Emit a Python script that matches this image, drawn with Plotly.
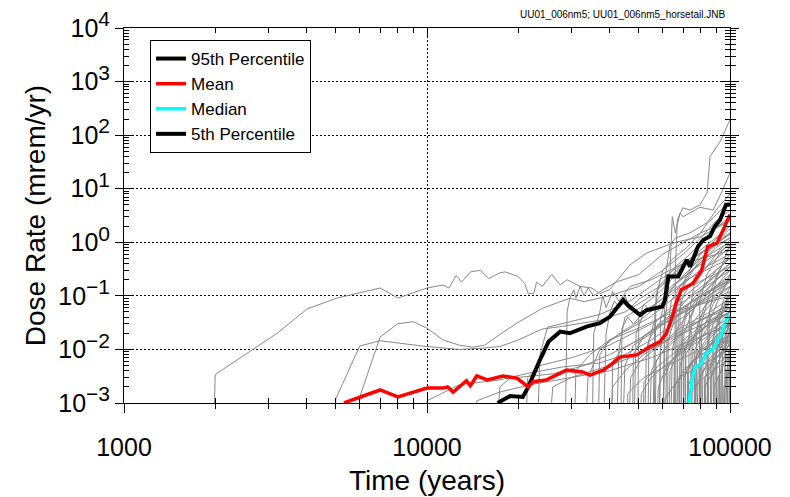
import plotly.graph_objects as go

# ---------------- data ----------------
p95_time = [17100, 18800, 20700, 21600, 23600, 25200, 27500, 29600, 33800, 37200, 40200, 44400, 46000,
            50500, 53000, 59800, 61000, 62600, 67500, 72000, 73800, 78400, 81600, 86000, 89000, 92700,
            97000, 100000]
p95_dose = [1.0e-3, 1.35e-3, 1.3e-3, 2.0e-3, 6.4e-3, 1.4e-2, 2.15e-2, 2.0e-2, 2.7e-2, 3.1e-2, 4.1e-2,
            8.4e-2, 6.7e-2, 4.4e-2, 5.4e-2, 6.3e-2, 8.4e-2, 0.23, 0.23, 0.47, 0.35, 0.83, 1.1, 1.3, 1.97,
            2.6, 5.0, 5.0]

mean_time = [5320, 7000, 8020, 10000, 11300, 11700, 12200, 13500, 13900, 14600, 15800, 17800, 19800,
             21600, 22400, 24800, 28900, 32600, 34500, 37200, 38200, 41200, 43300, 49300, 54500, 58800,
             61700, 64000, 66500, 69000, 75400, 80600, 84400, 88000, 90600, 94900, 100000]
mean_dose = [1.0e-3, 1.75e-3, 1.3e-3, 1.9e-3, 1.9e-3, 2.0e-3, 1.6e-3, 2.6e-3, 2.1e-3, 3.2e-3, 2.7e-3,
             3.2e-3, 2.9e-3, 2.0e-3, 2.5e-3, 2.7e-3, 4.1e-3, 3.8e-3, 3.3e-3, 3.8e-3, 4.1e-3, 5.6e-3,
             7.2e-3, 7.9e-3, 1.13e-2, 1.4e-2, 2.0e-2, 3.5e-2, 7.4e-2, 0.13, 0.17, 0.30, 0.83, 0.9,
             0.97, 1.7, 3.3]

median_time = [73300, 75000, 76700, 80600, 83700, 86900, 88900, 91000, 93600, 97000, 100000]
median_dose = [1.0e-3, 2.7e-3, 4.5e-3, 5.6e-3, 8.6e-3, 1.0e-2, 1.07e-2, 1.5e-2, 1.9e-2, 3.5e-2, 4.4e-2]

# 5th percentile stays below the plotted range (< 1e-3) for the whole period
p5_time = [73300, 100000]
p5_dose = [1e-4, 5e-4]

# individual realizations (horsetail): times and doses
real_times = [
    [1970, 2000, 3200, 4020, 5050, 7000, 8030, 10000, 11300, 11800, 12500, 13000, 13900, 15000, 16000,
     17400, 18100, 20000, 21000, 21600, 22500, 23000, 24000, 25800, 27500, 29000, 32000, 35000, 37200,
     40000, 46800, 53000, 66000, 79600, 97000, 100000],
    [4970, 5000, 6000, 7000, 10000, 12800, 15000, 17400, 20000, 24000, 28000, 33800, 37200, 45000, 55000,
     65000, 75000, 90000, 100000],
    [5900, 6000, 7000, 8000, 9000, 10000, 11300, 12800, 14200, 15500, 17400, 19800, 24100, 29600, 33000,
     40000, 50000, 60000, 70000, 80000, 90000, 100000],
    [9800, 10000, 12800, 17400, 21600, 28000, 37200, 45000, 55000, 70000, 85000, 100000],
    [16800, 17400, 18800, 21400, 26000, 33000, 40000, 50000, 60000, 75000, 100000],
    [21000, 21500, 23600, 30000, 40000, 55000, 75000, 100000],
    [23000, 23600, 25000, 30000, 37200, 46800, 58800, 73800, 100000],
    [28500, 29000, 29600, 30500, 31000, 32000, 33000, 34000, 35500, 37200, 42000, 50000, 60000, 70000,
     80000, 100000],
    [33000, 34000, 37200, 43300, 50500, 58800, 68400, 79600, 100000],
    [36500, 37200, 40000, 46800, 54500, 63400, 73800, 100000],
    [38000, 39000, 40200, 41500, 43300, 45000, 46800, 50500, 58800, 68400, 85900, 100000],
    [40000, 41000, 45000, 52000, 62000, 75000, 100000],
    [42000, 43000, 45000, 50500, 58800, 68400, 79600, 100000],
    [44000, 45000, 48000, 55000, 65000, 80000, 100000],
    [46000, 47000, 50500, 58800, 68400, 85900, 100000],
    [48000, 49000, 52000, 58800, 65000, 75000, 90000, 100000],
    [50000, 51000, 55000, 63400, 75000, 100000],
    [52000, 53000, 56000, 63400, 73800, 85900, 100000],
    [54000, 55000, 58800, 68400, 79600, 100000],
    [55500, 56500, 58000, 61000, 66000, 73800, 85900, 100000],
    [57000, 58000, 62000, 70000, 85000, 100000],
    [58000, 59000, 61000, 66000, 73800, 85900, 100000],
    [59500, 60500, 64000, 72000, 85000, 100000],
    [61000, 62000, 64000, 68400, 75000, 85900, 100000],
    [60000, 61000, 63400, 64500, 66000, 68400, 70000, 79600, 88000, 95000, 100000],
    [65500, 66000, 67000, 69800, 73800, 79600, 84000, 85900, 92700, 100000],
    [62500, 63400, 67000, 73800, 85900, 100000],
    [63500, 64500, 67000, 73800, 85900, 100000],
    [64500, 65500, 70000, 80000, 100000],
    [66500, 67500, 70000, 75000, 85900, 100000],
    [67500, 68400, 72000, 79600, 90000, 100000],
    [68500, 69500, 72000, 79600, 90000, 100000],
    [69500, 70500, 75000, 85000, 100000],
    [70500, 71500, 75000, 82000, 92000, 100000],
    [71500, 72500, 78000, 88000, 100000],
    [72500, 73500, 76000, 82000, 92000, 100000],
    [73500, 74500, 80000, 90000, 100000],
    [74500, 75500, 79600, 88000, 100000],
    [75500, 76500, 82000, 92000, 100000],
    [76500, 77500, 82000, 90000, 100000],
    [77500, 78500, 84000, 94000, 100000],
    [78500, 79500, 86000, 100000],
    [79500, 80500, 85000, 92000, 100000],
    [80500, 81500, 88000, 100000],
    [81500, 82500, 90000, 100000],
    [82500, 83500, 88000, 95000, 100000],
    [83500, 84500, 92000, 100000],
    [84500, 85500, 90000, 96000, 100000],
    [85500, 86500, 94000, 100000],
    [86500, 87500, 93000, 100000],
    [87500, 88500, 95000, 100000],
    [88500, 89500, 95000, 100000],
    [89500, 90500, 95000, 100000],
    [90500, 91500, 100000],
    [91500, 92500, 100000],
    [92500, 93500, 100000],
    [93500, 94500, 100000],
    [94500, 95500, 100000],
    [95500, 96500, 100000],
    [96500, 97500, 100000],
    [97500, 98500, 100000],
    [98500, 99500, 100000],
    [56000, 57000, 60000, 65000, 72000, 80000, 90000, 100000],
    [60000, 61000, 63400, 66000, 73800, 85900, 100000],
    [14300, 14600, 17400, 22000, 30000, 40000, 55000, 75000, 100000],
    [25000, 26000, 30000, 40000, 50000, 70000, 100000],
    [40500, 41000, 44000, 50500, 60000, 75000, 100000],
    [43500, 44000, 46000, 48000, 52000, 60000, 72000, 100000],
    [45500, 46000, 52000, 62000, 80000, 100000],
    [47500, 48000, 52000, 58800, 70000, 90000, 100000],
    [49500, 50000, 52000, 55000, 58000, 64000, 75000, 100000],
    [51500, 52000, 58000, 68000, 85000, 100000],
    [53500, 54000, 58000, 66000, 80000, 100000],
    [56500, 57000, 62000, 72000, 90000, 100000],
    [58500, 59000, 62000, 68000, 80000, 100000],
    [60500, 61000, 68000, 85000, 100000],
    [62000, 62500, 66000, 75000, 90000, 100000],
    [65000, 65500, 70000, 82000, 100000],
    [67000, 67500, 75000, 90000, 100000],
    [69000, 69500, 73000, 82000, 100000],
    [71000, 71500, 78000, 90000, 100000],
    [73000, 73500, 82000, 100000],
    [76000, 76500, 84000, 100000],
    [79000, 79500, 84000, 92000, 100000],
    [35000, 35500, 37200, 38000, 39000, 41000, 43000, 46800, 55000, 70000, 100000],
    [30500, 31000, 34500, 40000, 50000, 65000, 100000],
    [70000, 70500, 76000, 86000, 100000],
    [72000, 72500, 80000, 92000, 100000],
    [74000, 74500, 80000, 90000, 100000],
    [77000, 77500, 86000, 100000],
    [80000, 80500, 88000, 100000],
    [82000, 82500, 92000, 100000],
    [84000, 84500, 92000, 100000],
    [86000, 86500, 95000, 100000],
    [88000, 88500, 96000, 100000],
    [90000, 90500, 100000],
    [92000, 92500, 100000],
    [94000, 94500, 100000],
    [96000, 96500, 100000],
    [98000, 98500, 100000],
    [99000, 99500, 100000],
    [66000, 66500, 70000, 78000, 90000, 100000],
    [68000, 68500, 72000, 80000, 92000, 100000],
]
real_doses = [
    [1e-4, 3.4e-3, 2.0e-2, 5.7e-2, 9.1e-2, 0.14, 0.091, 0.14, 0.16, 0.14, 0.24, 0.18, 0.28, 0.30, 0.21,
     0.27, 0.28, 0.23, 0.17, 0.11, 0.11, 0.18, 0.15, 0.25, 0.16, 0.20, 0.15, 0.14, 0.11,
     0.13, 0.38, 0.63, 1.0, 1.26, 2.3, 2.6],
    [1e-4, 1.2e-3, 1.16e-2, 1.45e-2, 1.13e-2, 1.0e-2, 1.05e-2, 1.13e-2, 1.5e-2, 2.4e-2, 2.7e-2, 3.2e-2,
     3.5e-2, 5e-2, 0.1, 0.25, 0.5, 1.0, 1.5],
    [1e-4, 1.3e-3, 1.7e-2, 3.0e-2, 3.3e-2, 2.5e-2, 1.5e-2, 1.2e-2, 1.1e-2, 1.2e-2, 1.9e-2, 3.1e-2,
     5.9e-2, 9e-2, 7.8e-2, 0.1, 0.15, 0.3, 0.6, 1.2, 2.5, 4.0],
    [1e-4, 1.1e-3, 2.2e-3, 2.7e-3, 3.6e-3, 4.7e-3, 5.6e-3, 8e-3, 1.5e-2, 4e-2, 0.1, 0.2],
    [1e-4, 2e-3, 2.9e-3, 3.1e-3, 3.5e-3, 5e-3, 8e-3, 1.5e-2, 3e-2, 6e-2, 0.15],
    [1e-4, 3e-3, 5e-3, 7e-3, 1.2e-2, 3e-2, 0.1, 0.3],
    [1e-4, 8e-3, 2.6e-2, 3.3e-2, 4.5e-2, 8e-2, 0.2, 0.5, 1.2],
    [1e-4, 5e-2, 0.09, 0.13, 0.09, 0.15, 0.1, 0.14, 0.1, 0.12, 0.18, 0.25, 0.6, 1.0, 1.5, 2.5],
    [1e-4, 3e-3, 1e-2, 2e-2, 3.5e-2, 7e-2, 0.15, 0.3, 0.6],
    [1e-4, 8e-3, 1.5e-2, 2.5e-2, 4e-2, 8e-2, 0.15, 0.35],
    [1e-4, 0.02, 0.05, 0.08, 0.06, 0.1, 0.06, 0.09, 0.15, 0.35, 0.8, 1.4],
    [1e-4, 2e-3, 4e-3, 8e-3, 1.5e-2, 3e-2, 6e-2],
    [1e-4, 0.01, 0.04, 0.06, 0.12, 0.3, 0.7, 2.0],
    [1e-4, 5e-3, 1.2e-2, 2e-2, 4e-2, 8e-2, 0.18],
    [1e-4, 3e-3, 6e-3, 1.2e-2, 2.5e-2, 5e-2, 9e-2],
    [1e-4, 2e-2, 5e-2, 0.08, 0.15, 0.3, 0.8, 1.2],
    [1e-4, 1.5e-3, 3e-3, 6e-3, 1.2e-2, 3e-2],
    [1e-4, 1e-2, 3e-2, 6e-2, 0.12, 0.25, 0.5],
    [1e-4, 4e-3, 8e-3, 1.8e-2, 3.5e-2, 7e-2],
    [1e-4, 0.05, 0.15, 0.2, 0.35, 0.6, 1.5, 3.0],
    [1e-4, 2e-3, 5e-3, 1e-2, 2.2e-2, 4e-2],
    [1e-4, 0.01, 0.03, 0.05, 0.1, 0.2, 0.4],
    [1e-4, 3e-3, 6e-3, 1.5e-2, 3e-2, 5e-2],
    [1e-4, 0.02, 0.08, 0.15, 0.3, 0.6, 1.0],
    [1e-4, 0.03, 0.3, 3.0, 1.5, 3.5, 3.0, 4.5, 4.0, 10, 20],
    [1e-4, 0.3, 2.6, 4.4, 4.0, 5.0, 8.4, 40, 75, 195],
    [1e-4, 4e-3, 8e-3, 1.5e-2, 3e-2, 5e-2],
    [1e-4, 0.01, 0.025, 0.05, 0.12, 0.25],
    [1e-4, 2e-3, 4e-3, 8e-3, 1.5e-2],
    [1e-4, 0.04, 0.1, 0.18, 0.4, 0.8],
    [1e-4, 5e-3, 1.2e-2, 2.5e-2, 5e-2, 8e-2],
    [1e-4, 0.02, 0.05, 0.1, 0.2, 0.35],
    [1e-4, 3e-3, 6e-3, 1.2e-2, 2.5e-2],
    [1e-4, 0.01, 0.03, 0.06, 0.12, 0.2],
    [1e-4, 2e-3, 5e-3, 1e-2, 2e-2],
    [1e-4, 0.05, 0.15, 0.3, 0.7, 1.1],
    [1e-4, 4e-3, 9e-3, 1.8e-2, 3e-2],
    [1e-4, 0.015, 0.04, 0.08, 0.15],
    [1e-4, 2e-3, 4e-3, 8e-3, 1.2e-2],
    [1e-4, 0.02, 0.06, 0.15, 0.3],
    [1e-4, 5e-3, 1e-2, 2e-2, 3.5e-2],
    [1e-4, 3e-3, 7e-3, 1.5e-2],
    [1e-4, 0.03, 0.1, 0.3, 0.6],
    [1e-4, 6e-3, 1.5e-2, 3e-2],
    [1e-4, 2e-3, 5e-3, 9e-3],
    [1e-4, 0.01, 0.03, 0.07, 0.1],
    [1e-4, 4e-3, 1e-2, 2e-2],
    [1e-4, 0.05, 0.2, 0.5, 0.9],
    [1e-4, 3e-3, 8e-3, 1.3e-2],
    [1e-4, 0.015, 0.04, 0.08],
    [1e-4, 2e-3, 5e-3, 8e-3],
    [1e-4, 8e-3, 2e-2, 4e-2],
    [1e-4, 0.03, 0.08, 0.15],
    [1e-4, 3e-3, 1e-2],
    [1e-4, 0.01, 0.03],
    [1e-4, 5e-3, 1.5e-2],
    [1e-4, 0.02, 0.06],
    [1e-4, 2e-3, 5e-3],
    [1e-4, 0.01, 0.025],
    [1e-4, 4e-3, 8e-3],
    [1e-4, 3e-3, 6e-3],
    [1e-4, 2e-3, 3e-3],
    [1e-4, 0.1, 0.3, 0.5, 0.8, 1.5, 4.0, 8.0],
    [1e-4, 0.2, 0.9, 1.2, 1.5, 2.5, 6.0],
    [1e-4, 1.1e-3, 1.6e-3, 2.2e-3, 3e-3, 4e-3, 7e-3, 1.5e-2, 3e-2],
    [1e-4, 2e-3, 3e-3, 5e-3, 8e-3, 2e-2, 5e-2],
    [1e-4, 6e-3, 1e-2, 1.6e-2, 3e-2, 6e-2, 0.12],
    [1e-4, 2.5e-2, 4e-2, 3e-2, 5e-2, 9e-2, 0.2, 0.5],
    [1e-4, 1.5e-3, 3e-3, 5e-3, 1e-2, 1.8e-2],
    [1e-4, 8e-3, 1.8e-2, 3e-2, 6e-2, 0.14, 0.2],
    [1e-4, 4e-2, 0.07, 0.05, 0.09, 0.15, 0.3, 0.9],
    [1e-4, 2.5e-3, 5e-3, 1e-2, 2e-2, 3e-2],
    [1e-4, 1.5e-2, 3e-2, 5e-2, 0.1, 0.2],
    [1e-4, 6e-3, 1.2e-2, 2.5e-2, 5e-2, 7e-2],
    [1e-4, 0.04, 0.1, 0.2, 0.5, 1.5],
    [1e-4, 1.2e-3, 3e-3, 6e-3, 1e-2],
    [1e-4, 0.015, 0.04, 0.08, 0.15, 0.22],
    [1e-4, 7e-3, 1.5e-2, 3e-2, 6e-2],
    [1e-4, 2.5e-3, 6e-3, 1.2e-2, 1.6e-2],
    [1e-4, 0.03, 0.07, 0.15, 0.4],
    [1e-4, 8e-3, 2e-2, 4e-2, 6e-2],
    [1e-4, 1.5e-3, 3e-3, 7e-3],
    [1e-4, 0.01, 0.025, 0.05],
    [1e-4, 0.08, 0.25, 0.6, 1.0],
    [1e-4, 2e-2, 5e-2, 0.1, 0.06, 0.12, 0.08, 0.15, 0.2, 0.4, 0.7],
    [1e-4, 4e-3, 8e-3, 1.5e-2, 2.5e-2, 5e-2, 0.1],
    [1e-4, 0.02, 0.06, 0.15, 0.35],
    [1e-4, 4e-3, 1e-2, 2.5e-2, 4e-2],
    [1e-4, 0.04, 0.12, 0.3, 0.5],
    [1e-4, 8e-3, 2e-2, 5e-2],
    [1e-4, 0.02, 0.07, 0.2],
    [1e-4, 3e-3, 8e-3, 1.5e-2],
    [1e-4, 0.03, 0.09, 0.25],
    [1e-4, 6e-3, 1.8e-2, 3e-2],
    [1e-4, 0.02, 0.06, 0.1],
    [1e-4, 5e-3, 2e-2],
    [1e-4, 0.04, 0.12],
    [1e-4, 8e-3, 2.5e-2],
    [1e-4, 0.015, 0.04],
    [1e-4, 6e-3, 1e-2],
    [1e-4, 0.02, 0.03],
    [1e-4, 0.06, 0.15, 0.4, 1.0, 1.8],
    [1e-4, 0.1, 0.25, 0.6, 1.3, 2.0],
]

x_tickvals = [1000, 10000, 100000]
x_ticktext = ["1000", "10000", "100000"]
y_tickvals = [1e-3, 1e-2, 1e-1, 1e0, 1e1, 1e2, 1e3, 1e4]
y_exponents = ["\u22123", "\u22122", "\u22121", "0", "1", "2", "3", "4"]

# ---------------- figure ----------------
FONT = "Arial, Liberation Sans, sans-serif"
SUP = "<span style='font-size:21px'>{}</span>"
y_ticktext = ["10<sup>" + SUP.format(e) + "</sup>" for e in y_exponents]

fig = go.Figure()

for tt, dd in zip(real_times, real_doses):
    fig.add_trace(go.Scatter(x=tt, y=dd, mode="lines", showlegend=False, hoverinfo="skip",
                             line=dict(color="#888888", width=1)))

fig.add_trace(go.Scatter(x=p95_time, y=p95_dose, mode="lines", name="95th Percentile",
                         line=dict(color="black", width=4)))
fig.add_trace(go.Scatter(x=mean_time, y=mean_dose, mode="lines", name="Mean",
                         line=dict(color="#ff0000", width=3.5)))
fig.add_trace(go.Scatter(x=median_time, y=median_dose, mode="lines", name="Median",
                         line=dict(color="#00ffff", width=3.5)))
fig.add_trace(go.Scatter(x=p5_time, y=p5_dose, mode="lines", name="5th Percentile",
                         line=dict(color="black", width=4)))

# helper traces to bind overlay axes (for crossing tick marks)
fig.add_trace(go.Scatter(x=[None], y=[None], xaxis="x2", yaxis="y2", showlegend=False,
                         hoverinfo="skip"))
fig.add_trace(go.Scatter(x=[None], y=[None], xaxis="x", yaxis="y3", showlegend=False,
                         hoverinfo="skip"))

x_minor = [m * 10 ** e for e in (3, 4) for m in range(2, 10)]
y_minor = [m * 10.0 ** e for e in range(-3, 4) for m in range(2, 10)]

XR = [3, 5]
YR = [-3, 4]
grid = dict(showgrid=True, gridcolor="black", gridwidth=1, griddash="2px,2px")

# the page body adds an 8 px offset, so the figure is sized to the visible area
fig.update_layout(
    width=782, height=489,
    margin=dict(l=116, r=60, t=20, b=94, autoexpand=False),
    paper_bgcolor="white", plot_bgcolor="white",
    font=dict(family=FONT, color="black"),
    xaxis=dict(type="log", range=XR, tickmode="array", tickvals=x_tickvals, ticktext=x_ticktext,
               ticks="outside", ticklen=9, tickwidth=1, tickcolor="black",
               minor=dict(tickmode="array", tickvals=x_minor, ticks="outside", ticklen=5,
                          tickcolor="black", showgrid=False),
               showline=True, linecolor="black", linewidth=1, mirror=True, automargin=False,
               tickfont=dict(size=25, family=FONT), ticklabelstandoff=13,
               ticklabeloverflow="allow",
               title=dict(text="Time (years)", font=dict(size=28, family=FONT), standoff=10),
               zeroline=False, **grid),
    yaxis=dict(type="log", range=YR, tickmode="array", tickvals=y_tickvals, ticktext=y_ticktext,
               ticks="outside", ticklen=8, tickwidth=1, tickcolor="black",
               showline=True, linecolor="black", linewidth=1, mirror=True, automargin=False,
               tickfont=dict(size=25, family=FONT), ticklabeloverflow="allow",
               title=dict(text="Dose Rate (mrem/yr)", font=dict(size=28, family=FONT), standoff=4),
               zeroline=False, **grid),
    xaxis2=dict(type="log", range=XR, overlaying="x", anchor="y2", side="bottom",
                tickmode="array", tickvals=x_tickvals, ticks="inside", ticklen=9, tickcolor="black",
                minor=dict(tickmode="array", tickvals=x_minor, ticks="inside", ticklen=5,
                           tickcolor="black", showgrid=False),
                showticklabels=False, showgrid=False, showline=False, mirror="ticks",
                zeroline=False, automargin=False),
    yaxis2=dict(type="log", range=YR, overlaying="y", anchor="x2", side="left",
                tickmode="array", tickvals=y_tickvals, ticks="inside", ticklen=9, tickcolor="black",
                minor=dict(tickmode="array", tickvals=y_minor, ticks="inside", ticklen=5,
                           tickcolor="black", showgrid=False),
                showticklabels=False, showgrid=False, showline=False, mirror="ticks",
                zeroline=False, automargin=False),
    yaxis3=dict(type="log", range=YR, overlaying="y", anchor="x", side="right",
                tickmode="array", tickvals=y_tickvals, ticks="outside", ticklen=8, tickcolor="black",
                minor=dict(tickmode="array", tickvals=y_minor, ticks="outside", ticklen=5,
                           tickcolor="black", showgrid=False),
                showticklabels=False, showgrid=False, showline=False, zeroline=False,
                automargin=False),
    legend=dict(x=0.043, y=0.968, xanchor="left", yanchor="top", bgcolor="white",
                bordercolor="black", borderwidth=1, font=dict(size=17, family=FONT),
                itemwidth=30, tracegroupgap=0),
    annotations=[dict(text="UU01_006nm5; UU01_006nm5_horsetail.JNB", xref="paper", yref="paper",
                      x=0.995, y=1.037, xanchor="right", yanchor="middle", showarrow=False,
                      font=dict(size=10, family=FONT))],
    showlegend=True,
)

fig.write_html("out.html")
